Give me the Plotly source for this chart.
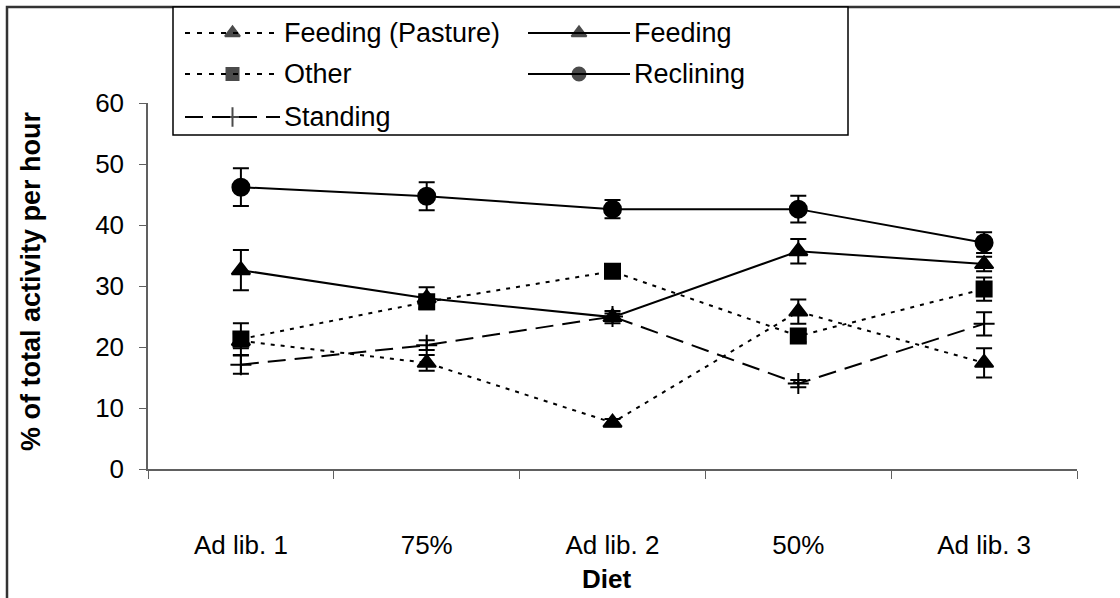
import plotly.graph_objects as go

# Diet phases on the x axis
diets = ["Ad lib. 1", "75%", "Ad lib. 2", "50%", "Ad lib. 3"]

# Mean % of total activity per hour, with standard errors
feeding_pasture = [21.0, 17.4, 7.6, 25.8, 17.4]
feeding_pasture_se = [1.2, 1.3, 0.6, 2.0, 2.4]

feeding = [32.6, 28.0, 24.9, 35.7, 33.6]
feeding_se = [3.3, 1.8, 1.0, 2.0, 1.2]

other = [21.3, 27.4, 32.4, 21.8, 29.5]
other_se = [2.6, 1.0, 0.7, 1.0, 1.9]

reclining = [46.2, 44.7, 42.6, 42.6, 37.1]
reclining_se = [3.1, 2.3, 1.5, 2.2, 1.7]

standing = [17.1, 20.3, 25.0, 14.0, 23.8]
standing_se = [1.5, 0.8, 0.5, 0.6, 1.9]

y_ticks = [0, 10, 20, 30, 40, 50, 60]

W, H = 1120, 598
# plot area in pixels
PL, PR, PT, PB = 148, 1077, 103, 469

FONT = "Arial, Liberation Sans, sans-serif"
DOT = "4px,6px"
LONG = "18px,9px"
AXIS_GREY = "#606060"

series = [
    ("Feeding (Pasture)", feeding_pasture, feeding_pasture_se, DOT, "triangle-up", 16),
    ("Feeding", feeding, feeding_se, "solid", "triangle-up", 16),
    ("Other", other, other_se, DOT, "square", 15),
    ("Reclining", reclining, reclining_se, "solid", "circle", 17),
    ("Standing", standing, standing_se, LONG, "cross-thin", 15),
]

fig = go.Figure()

for name, vals, se, dash, sym, size in series:
    fig.add_trace(go.Scatter(
        x=diets, y=vals, name=name, mode="lines+markers",
        line=dict(color="black", width=2, dash=dash),
        marker=dict(symbol=sym, size=size, color="black",
                    line=dict(color="black", width=2)),
        error_y=dict(type="data", array=se, visible=True,
                     color="black", thickness=2, width=8),
        showlegend=False, cliponaxis=False,
        xaxis="x", yaxis="y",
    ))

# Key drawn in pixel space on an overlay axis pair spanning the page
key = [
    # label, dash, symbol, size, line x0, line x1, row y
    ("Feeding (Pasture)", "5px,7px", "triangle-up", 13, 185, 280, 33),
    ("Feeding", "solid", "triangle-up", 13, 528, 630, 33),
    ("Other", "5px,7px", "square", 12, 185, 280, 74),
    ("Reclining", "solid", "circle", 13, 528, 630, 74),
    ("Standing", LONG, "cross-thin", 14, 185, 280, 117),
]
annotations = []
for label, dash, sym, size, x0, x1, ky in key:
    xm = (x0 + x1) / 2
    fig.add_trace(go.Scatter(
        x=[x0, xm, x1], y=[ky, ky, ky], mode="lines+markers",
        line=dict(color="black", width=2, dash=dash),
        marker=dict(symbol=sym, size=[0, size, 0], color="black",
                    line=dict(color="black", width=2)),
        showlegend=False, hoverinfo="skip",
        xaxis="x2", yaxis="y2",
    ))
    annotations.append(dict(
        x=x1 + 2, y=ky, xref="x2", yref="y2", text=label, showarrow=False,
        xanchor="left", yanchor="middle",
        font=dict(family=FONT, size=27, color="black"),
    ))

# Axis titles
annotations.append(dict(
    x=31, y=281, xref="x2", yref="y2",
    text="<b>% of total activity per hour</b>", textangle=-90, showarrow=False,
    font=dict(family=FONT, size=27, color="black"),
))
annotations.append(dict(
    x=606, y=579, xref="x2", yref="y2",
    text="<b>Diet</b>", showarrow=False,
    font=dict(family=FONT, size=26, color="black"),
))

shapes = [
    # outer frame
    dict(type="rect", xref="x2", yref="y2", x0=7, y0=7, x1=W + 20, y1=H + 20,
         line=dict(color="#333333", width=2.5), layer="below"),
    # key box
    dict(type="rect", xref="x2", yref="y2", x0=173, y0=7, x1=848, y1=135,
         line=dict(color="black", width=1.5), fillcolor="white", layer="below"),
]

fig.update_layout(
    width=W, height=H,
    margin=dict(l=0, r=0, t=0, b=0, autoexpand=False),
    paper_bgcolor="white",
    plot_bgcolor="rgba(0,0,0,0)",
    showlegend=False,
    font=dict(family=FONT, size=26, color="black"),
    xaxis=dict(
        domain=[PL / W, PR / W], anchor="y",
        type="category", tickson="boundaries",
        showline=True, linecolor=AXIS_GREY, linewidth=1.5,
        ticks="outside", ticklen=8, tickcolor=AXIS_GREY, tickwidth=1,
        showgrid=False, zeroline=False, automargin=False,
        tickfont=dict(family=FONT, size=26, color="black"),
        ticklabelstandoff=52,
        range=[-0.5, len(diets) - 0.5],
    ),
    yaxis=dict(
        domain=[(H - PB) / H, (H - PT) / H], anchor="x",
        range=[0, 60], tickvals=y_ticks,
        showline=True, linecolor=AXIS_GREY, linewidth=1.5,
        ticks="outside", ticklen=7, tickcolor=AXIS_GREY, tickwidth=1,
        showgrid=False, zeroline=False, automargin=False,
        tickfont=dict(family=FONT, size=26, color="black"),
        ticklabelstandoff=10,
    ),
    xaxis2=dict(domain=[0, 1], anchor="y2", range=[0, W], visible=False,
                fixedrange=True, automargin=False),
    yaxis2=dict(domain=[0, 1], anchor="x2", range=[H, 0], visible=False,
                fixedrange=True, automargin=False),
    shapes=shapes,
    annotations=annotations,
)

fig.write_html("out.html")
